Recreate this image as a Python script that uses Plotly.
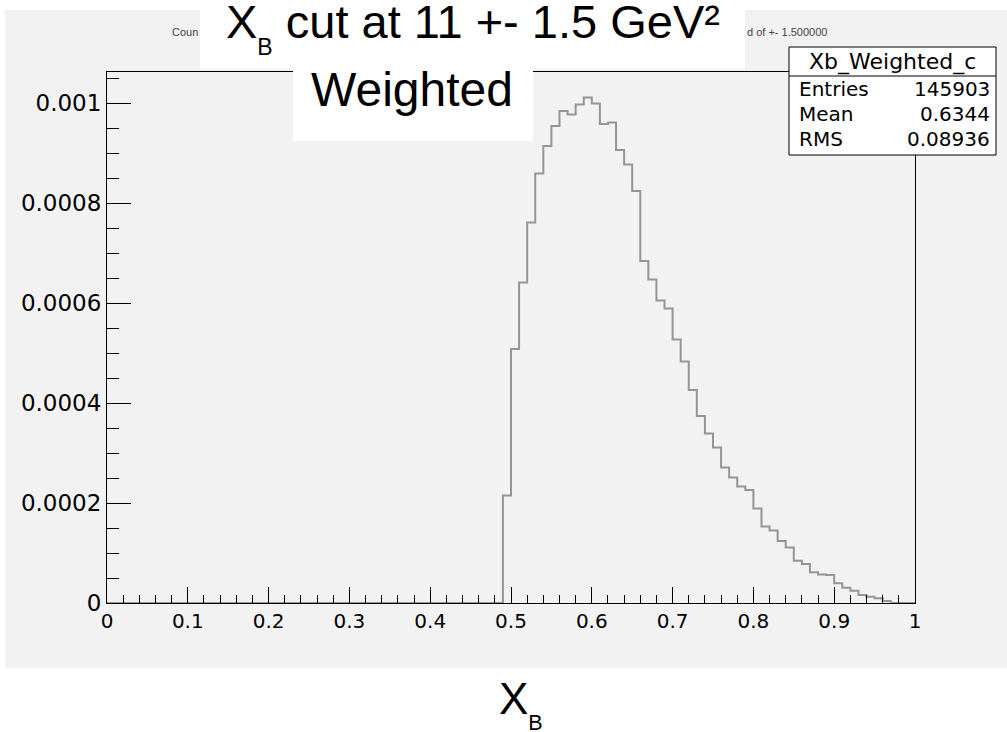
import plotly.graph_objects as go

# ---------------- data ----------------
bin_low_edges = [0.49, 0.50, 0.51, 0.52, 0.53, 0.54, 0.55, 0.56, 0.57, 0.58,
                 0.59, 0.60, 0.61, 0.62, 0.63, 0.64, 0.65, 0.66, 0.67, 0.68,
                 0.69, 0.70, 0.71, 0.72, 0.73, 0.74, 0.75, 0.76, 0.77, 0.78,
                 0.79, 0.80, 0.81, 0.82, 0.83, 0.84, 0.85, 0.86, 0.87, 0.88,
                 0.89, 0.90, 0.91, 0.92, 0.93, 0.94, 0.95, 0.96]
bin_contents = [0.000215, 0.000508, 0.000641, 0.000761, 0.000859, 0.000914,
                0.000954, 0.000984, 0.000977, 0.000997, 0.001011, 0.000999,
                0.000958, 0.000961, 0.000906, 0.000877, 0.000824, 0.000684,
                0.000647, 0.000605, 0.000589, 0.000527, 0.000483, 0.000426,
                0.000374, 0.000339, 0.000311, 0.000271, 0.000251, 0.000233,
                0.000226, 0.000189, 0.000153, 0.000145, 0.000124, 0.000111,
                0.0000846, 0.000078, 0.0000614, 0.000057, 0.000056, 0.0000394,
                0.0000306, 0.0000246, 0.000016, 0.0000126, 0.0000094, 0.000004]
bin_width = 0.01

x_tick_values = [0, 0.1, 0.2, 0.3, 0.4, 0.5, 0.6, 0.7, 0.8, 0.9, 1]
x_tick_labels = ["0", "0.1", "0.2", "0.3", "0.4", "0.5", "0.6", "0.7", "0.8", "0.9", "1"]
y_tick_values = [0, 0.0002, 0.0004, 0.0006, 0.0008, 0.001]
y_tick_labels = ["0", "0.0002", "0.0004", "0.0006", "0.0008", "0.001"]
y_max = 0.001062

stats_name = "Xb_Weighted_c"
stats_labels = ["Entries", "Mean", "RMS"]
stats_values = ["145903", "0.6344", "0.08936"]

title_text = "X<sub><sub>B</sub></sub> cut at 11 +- 1.5 GeV²"
subtitle_text = "Weighted"
xaxis_text = "X<sub><sub>B</sub></sub>"
hidden_title_left = "Coun"
hidden_title_right = "d of +- 1.500000"

# ---------------- layout geometry (pixels) ----------------
W, H = 1007, 732
L, R, T, B = 107, 915, 72, 603


def px(xp):
    return (xp - L) / (R - L)


def py(yp):
    return (B - yp) / (B - T)


x_step = [0.0] + bin_low_edges + [bin_low_edges[-1] + bin_width, 1.0]
y_step = [0.0] + bin_contents + [0.0, 0.0]

fig = go.Figure()
fig.add_trace(go.Scatter(
    x=x_step, y=y_step, mode="lines", line=dict(shape="hv", color="#959595", width=2),
    hoverinfo="skip", showlegend=False, cliponaxis=True))

GRAY = "#f2f2f2"
tick_font = dict(family="DejaVu Sans", size=20, color="black")

shapes = [
    # ROOT canvas grey
    dict(type="rect", xref="paper", yref="paper", x0=px(5), x1=px(1007), y0=py(668), y1=py(10),
         fillcolor=GRAY, line=dict(width=0), layer="below"),
    # white title boxes
    dict(type="rect", xref="paper", yref="paper", x0=px(200), x1=px(745), y0=py(69), y1=py(-2),
         fillcolor="white", line=dict(width=0), layer="above"),
    dict(type="rect", xref="paper", yref="paper", x0=px(293), x1=px(533), y0=py(141), y1=py(68),
         fillcolor="white", line=dict(width=0), layer="above"),
    # stats box
    dict(type="rect", xref="paper", yref="paper", x0=px(789), x1=px(996), y0=py(155), y1=py(47),
         fillcolor="white", line=dict(width=1, color="black"), layer="above"),
    dict(type="line", xref="paper", yref="paper", x0=px(789), x1=px(996), y0=py(76), y1=py(76),
         line=dict(width=1, color="black"), layer="above"),
]

annotations = [
    dict(text=title_text, x=px(473), y=py(27), xref="paper", yref="paper", showarrow=False,
         xanchor="center", yanchor="middle", font=dict(family="Liberation Sans", size=47, color="black")),
    dict(text=subtitle_text, x=px(412), y=py(89), xref="paper", yref="paper", showarrow=False,
         xanchor="center", yanchor="middle", font=dict(family="Liberation Sans", size=48, color="black")),
    dict(text=xaxis_text, x=px(521), y=py(704), xref="paper", yref="paper", showarrow=False,
         xanchor="center", yanchor="middle", font=dict(family="Liberation Sans", size=44, color="black")),
    dict(text=hidden_title_left, x=px(200), y=py(32), xref="paper", yref="paper", showarrow=False,
         xanchor="right", yanchor="middle", font=dict(family="Liberation Sans", size=11, color="#444444")),
    dict(text=hidden_title_right, x=px(745), y=py(32), xref="paper", yref="paper", showarrow=False,
         xanchor="left", yanchor="middle", font=dict(family="Liberation Sans", size=11, color="#444444")),
    dict(text=stats_name, x=px(892), y=py(62), xref="paper", yref="paper", showarrow=False,
         xanchor="center", yanchor="middle", font=dict(family="DejaVu Sans", size=22, color="black")),
]
row_y = [89, 114, 139]
for lab, val, yy in zip(stats_labels, stats_values, row_y):
    annotations.append(dict(text=lab, x=px(797), y=py(yy), xref="paper", yref="paper", showarrow=False,
                            xanchor="left", yanchor="middle",
                            font=dict(family="DejaVu Sans", size=20, color="black")))
    annotations.append(dict(text=val, x=px(992), y=py(yy), xref="paper", yref="paper", showarrow=False,
                            xanchor="right", yanchor="middle",
                            font=dict(family="DejaVu Sans", size=20, color="black")))

fig.update_layout(
    width=W, height=H, autosize=False,
    margin=dict(l=L, r=W - R, t=T, b=H - B, pad=0),
    paper_bgcolor="white", plot_bgcolor=GRAY,
    showlegend=False,
    shapes=shapes, annotations=annotations,
    xaxis=dict(range=[0, 1], showgrid=False, zeroline=False, showline=True, linecolor="black",
               linewidth=1, mirror=True, ticks="inside", ticklen=16, tickwidth=1, tickcolor="black",
               tickvals=x_tick_values, ticktext=x_tick_labels, tickfont=tick_font,
               minor=dict(dtick=0.02, tick0=0, ticks="inside", ticklen=8, tickwidth=1, tickcolor="black")),
    yaxis=dict(range=[0, y_max], showgrid=False, zeroline=False, showline=True, linecolor="black",
               linewidth=1, mirror=True, ticks="inside", ticklen=24, tickwidth=1, tickcolor="black",
               tickvals=y_tick_values, ticktext=y_tick_labels,
               tickfont=dict(family="DejaVu Sans", size=23, color="black"),
               minor=dict(dtick=0.00005, tick0=0, ticks="inside", ticklen=12, tickwidth=1, tickcolor="black")),
)

fig.write_html("out.html")
